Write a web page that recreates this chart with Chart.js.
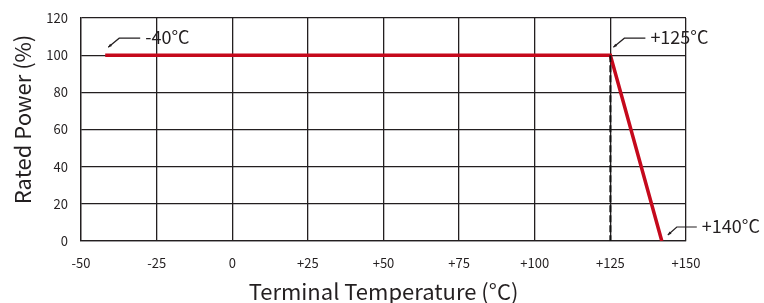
<!DOCTYPE html>
<html>
<head>
<meta charset="utf-8">
<script src="https://cdn.jsdelivr.net/npm/chart.js@4/dist/chart.umd.min.js"></script>
<style>
  body { margin: 0; background: #fff; }
  #wrap { width: 764px; height: 303px; }
</style>
</head>
<body>
<div id="wrap"><canvas id="derating"></canvas></div>
<script>
// derating curve points (temperature °C, rated power %)
const curveTemps = [-42, 125, 142];
const curvePower = [100, 100, 0];
// dashed marker at the knee
const kneeTemps = [125, 125];
const kneePower = [100, 0];
// callout labels
const calloutText = ["-40°C", "+125°C", "+140°C"];
const calloutTemp = [-42, 125, 142];
const calloutPower = [100, 100, 0];

const ink = "#231f20";
const fontFamily = "'Noto Sans CJK SC', 'Noto Sans', sans-serif";

const calloutPlugin = {
    id: "callouts",
    afterDatasetsDraw(chart) {
        const ctx = chart.ctx;
        const xs = chart.scales.x, ys = chart.scales.y;
        ctx.save();
        ctx.strokeStyle = ink;
        ctx.fillStyle = ink;
        ctx.lineWidth = 1.2;
        ctx.font = "18px " + fontFamily;
        ctx.textBaseline = "middle";
        calloutText.forEach((txt, i) => {
            const px = xs.getPixelForValue(calloutTemp[i]);
            const py = ys.getPixelForValue(calloutPower[i]);
            const bottom = calloutPower[i] === 0;
            const tipX = px + (bottom ? 6 : 3), tipY = py - (bottom ? 6 : 8);
            const cx = px + (bottom ? 15 : 14), cy = py - (bottom ? 14 : 17);
            const ex = px + 35;
            ctx.beginPath();
            ctx.moveTo(ex, cy);
            ctx.lineTo(cx, cy);
            ctx.lineTo(tipX, tipY);
            ctx.stroke();
            // small arrow head
            const ang = Math.atan2(tipY - cy, tipX - cx);
            ctx.beginPath();
            ctx.moveTo(tipX, tipY);
            ctx.lineTo(tipX - 4 * Math.cos(ang - 0.4), tipY - 4 * Math.sin(ang - 0.4));
            ctx.lineTo(tipX - 4 * Math.cos(ang + 0.4), tipY - 4 * Math.sin(ang + 0.4));
            ctx.closePath();
            ctx.fill();
            ctx.fillText(txt, ex + 5, cy - 1);
        });

        // y axis title, sits a little above the middle of the plot
        const area = chart.chartArea;
        ctx.translate(23, (area.top + area.bottom) / 2 - 10);
        ctx.rotate(-Math.PI / 2);
        ctx.textAlign = "center";
        ctx.font = "22px " + fontFamily;
        ctx.fillText("Rated Power (%)", 0, 0);
        ctx.restore();
    }
};

new Chart(document.getElementById("derating"), {
    type: "scatter",
    data: {
        datasets: [
            {
                data: kneeTemps.map((t, i) => ({ x: t, y: kneePower[i] })),
                showLine: true,
                borderColor: "#111",
                borderWidth: 2,
                borderDash: [7, 3],
                pointRadius: 0
            },
            {
                data: curveTemps.map((t, i) => ({ x: t, y: curvePower[i] })),
                showLine: true,
                borderColor: "#c5091c",
                borderWidth: 3.5,
                pointRadius: 0
            }
        ]
    },
    options: {
        responsive: true,
        maintainAspectRatio: false,
        animation: false,
        layout: { padding: { left: 0, right: 78, top: 18, bottom: 0 } },
        plugins: { legend: { display: false }, tooltip: { enabled: false } },
        scales: {
            x: {
                type: "linear",
                min: -50, max: 150,
                afterFit: s => { s.height = 62; },
                grid: { color: ink, lineWidth: 1.3, drawTicks: false },
                border: { color: ink, width: 1.3 },
                ticks: {
                    stepSize: 25,
                    padding: 14,
                    color: ink,
                    font: { family: fontFamily, size: 13 },
                    callback: v => v > 0 ? "+" + v : "" + v
                },
                title: {
                    display: true,
                    text: "Terminal Temperature (°C)",
                    color: ink,
                    font: { family: fontFamily, size: 22, lineHeight: 1 },
                    padding: { top: 0, bottom: 0 }
                }
            },
            y: {
                min: 0, max: 120,
                afterFit: s => { s.width = 81; s.paddingTop = 0; s.paddingBottom = 0; },
                grid: { color: ink, lineWidth: 1.3, drawTicks: false },
                border: { color: ink, width: 1.3 },
                ticks: {
                    stepSize: 20,
                    padding: 13,
                    color: ink,
                    font: { family: fontFamily, size: 13 }
                }
            }
        }
    },
    plugins: [calloutPlugin]
});
</script>
</body>
</html>
